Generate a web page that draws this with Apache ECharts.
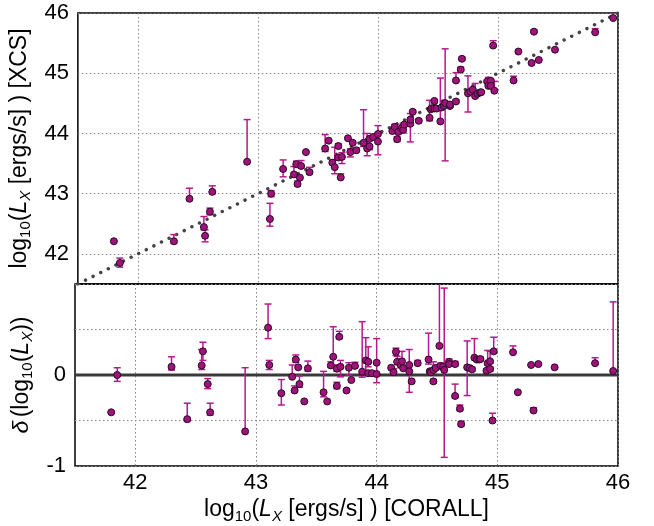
<!DOCTYPE html>
<html>
<head>
<meta charset="utf-8">
<script src="https://cdn.jsdelivr.net/npm/echarts@6/dist/echarts.min.js"></script>
<style>html,body{margin:0;padding:0;background:#fff}#c{width:654px;height:526px}</style>
</head>
<body>
<div id="c"></div>
<script>
// log10(Lx) CORALL (x)
const xCorall = [41.80,41.85,42.30,42.43,42.55,42.56,42.60,42.62,42.91,43.10,
43.11,43.21,43.30,43.32,43.33,43.35,43.36,43.40,43.43,43.56,
43.59,43.62,43.64,43.67,43.67,43.69,43.70,43.75,43.77,43.79,
43.82,43.88,43.91,43.93,43.93,43.96,44.00,44.00,44.12,44.14,
44.16,44.17,44.20,44.21,44.22,44.27,44.27,44.29,44.34,44.43,
44.44,44.45,44.47,44.47,44.49,44.52,44.53,44.55,44.56,44.60,
44.60,44.65,44.65,44.69,44.70,44.75,44.77,44.79,44.81,44.83,
44.85,44.86,44.91,44.92,44.94,44.94,44.96,44.97,45.13,45.17,
45.28,45.30,45.34,45.475,45.81,45.96];
// log10(Lx) XCS (y, top panel)
const xcs = [42.21,41.85,42.21,42.915,42.445,42.30,42.70,43.03,43.53,42.58,
43.00,43.41,43.32,43.49,43.16,43.266,43.46,43.69,43.357,43.75,
43.88,43.515,43.44,43.79,43.60,43.27,43.61,43.92,43.69,43.845,
43.72,43.844,43.75,43.91,43.785,43.94,43.865,43.99,44.04,44.11,
43.905,44.025,44.09,44.06,44.147,44.16,44.23,44.36,44.21,44.26,
44.40,44.42,44.54,44.415,44.413,44.20,44.43,44.46,44.505,44.455,
44.48,44.53,44.88,45.06,45.24,44.666,44.693,44.728,44.62,44.66,
44.68,44.685,44.863,44.79,44.874,44.79,45.46,44.71,44.88,45.36,
45.17,45.69,45.22,45.391,45.68,45.916];
// delta log10(Lx) (bottom panel)
const delta = [-0.41,0.00,0.09,-0.485,0.105,0.26,-0.10,-0.41,-0.62,0.52,
0.11,-0.20,-0.02,-0.17,0.17,0.084,-0.10,-0.29,0.073,-0.19,
-0.29,0.105,0.20,-0.12,0.07,0.42,0.09,-0.17,0.08,-0.055,
0.10,0.036,0.16,0.02,0.145,0.02,0.135,0.01,0.08,0.03,
0.255,0.145,0.11,0.15,0.073,0.11,0.04,-0.07,0.13,0.17,
0.04,0.03,-0.07,0.055,0.077,0.32,0.10,0.09,0.055,0.145,
0.12,0.12,-0.23,-0.37,-0.54,0.084,0.077,0.062,0.19,0.17,
0.17,0.175,0.047,0.13,0.066,0.15,-0.50,0.26,0.25,-0.19,
0.11,-0.39,0.12,0.084,0.13,0.044];
// lower / upper error sizes
const errLo = [0,0.07,0.035,0.025,0.045,0.10,0.05,0.03,0,0.12,
0.05,0.13,0,0.02,0.03,0,0.035,0,0.03,0.05,
0,0.02,0.11,0.03,0.03,0.02,0.11,0,0.08,0,
0.02,0.06,0.12,0,0.055,0.02,0.22,0,0,0.02,
0.04,0.03,0.03,0.05,0,0.30,0,0.02,0.02,0.05,
0,0.02,0.02,0.02,0.02,0,0.02,0.02,0.96,0.02,
0.02,0.02,0.02,0.02,0.02,0.31,0,0.02,0.02,0.02,
0,0.02,0.02,0.02,0.02,0.02,0.02,0.02,0,0,
0,0.01,0,0,0.01,0];
const errHi = [0,0.08,0.11,0.175,0.175,0.10,0.06,0.10,0.70,0.26,
0.05,0.15,0.13,0.05,0.05,0,0.09,0,0.08,0.23,
0,0.04,0.33,0.04,0.04,0.06,0.07,0,0.055,0,
0.04,0.55,0.25,0,0.165,0.02,0.265,0,0,0.04,
0.04,0.06,0.05,0.11,0,0.17,0,0.02,0.03,0.29,
0,0.03,0.02,0.09,0.03,0.72,0.03,0.03,0.90,0.03,
0.02,0.03,0.13,0.04,0.03,0.29,0,0.02,0.21,0.02,
0,0.02,0.02,0.14,0.02,0.11,0.08,0.155,0.07,0,
0,0.03,0,0,0.06,0.76];
const xTicks = [42,43,44,45,46];
const yTopTicks = [42,43,44,45,46];
const oneToOne = [41.5, 46];

const MAG = '#b8188f', FILL = '#a0137c', EDGE = '#2b0a22';
const topPts = xCorall.map((x,i)=>[x, xcs[i]]);
const botPts = xCorall.map((x,i)=>[x, delta[i]]);
const topErr = xCorall.map((x,i)=>[x, xcs[i], errLo[i], errHi[i]]);
const botErr = xCorall.map((x,i)=>[x, delta[i], errLo[i], errHi[i]]);

function errItem(params, api){
  const x = api.value(0), y = api.value(1), lo = api.value(2), hi = api.value(3);
  if (lo === 0 && hi === 0) return null;
  const p0 = api.coord([x, y - lo]);
  const p1 = api.coord([x, y + hi]);
  const w = 3.5;
  const st = {stroke: MAG, lineWidth: 1.5};
  const children = [{type:'line', shape:{x1:p0[0],y1:p0[1],x2:p1[0],y2:p1[1]}, style:st}];
  if (lo > 0) children.push({type:'line', shape:{x1:p0[0]-w,y1:p0[1],x2:p0[0]+w,y2:p0[1]}, style:st});
  if (hi > 0) children.push({type:'line', shape:{x1:p1[0]-w,y1:p1[1],x2:p1[0]+w,y2:p1[1]}, style:st});
  return {type:'group', children};
}

const FONT = 'Liberation Sans, Arial, sans-serif';
const gridLine = {show:true, lineStyle:{color:'#888', type:[1.5,2.5], width:1}};
const rich = {
  n:{fontSize:23, fontFamily:FONT, color:'#000', lineHeight:28, verticalAlign:'middle'},
  i:{fontSize:23, fontFamily:FONT, color:'#000', fontStyle:'italic', lineHeight:28, verticalAlign:'middle'},
  s:{fontSize:15, fontFamily:FONT, color:'#000', lineHeight:15, verticalAlign:'bottom'},
  si:{fontSize:15, fontFamily:FONT, color:'#000', fontStyle:'italic', lineHeight:15, verticalAlign:'bottom'}
};

const chart = echarts.init(document.getElementById('c'));
chart.setOption({
  animation:false,
  backgroundColor:'#fff',
  grid:[
    {left:75, right:36, top:13, height:271, show:true, borderColor:'#000', borderWidth:1.5, backgroundColor:'transparent'},
    {left:75, right:36, top:284, height:182, show:true, borderColor:'#000', borderWidth:1.5, backgroundColor:'transparent'}
  ],
  xAxis:[
    {type:'value', gridIndex:0, min:41.5, max:46,
     axisLine:{show:false}, axisTick:{show:false, customValues:xTicks}, axisLabel:{show:false, customValues:xTicks},
     splitLine:gridLine},
    {type:'value', gridIndex:1, min:41.5, max:46,
     axisLine:{show:false}, axisTick:{show:false, customValues:xTicks},
     axisLabel:{customValues:xTicks, fontSize:22, fontFamily:FONT, color:'#000', margin:6},
     splitLine:gridLine,
     name:'{n|log}{s|10}{n|(}{i|L}{si|X}{n| [ergs/s] ) [CORALL]}', nameLocation:'middle', nameGap:30,
     nameTextStyle:{rich}}
  ],
  yAxis:[
    {type:'value', gridIndex:0, min:41.5, max:46,
     axisLine:{show:false}, axisTick:{show:false, customValues:yTopTicks},
     axisLabel:{customValues:yTopTicks, fontSize:22, fontFamily:FONT, color:'#000', margin:9},
     splitLine:gridLine,
     name:'{n|log}{s|10}{n|(}{i|L}{si|X}{n| [ergs/s] ) [XCS]}', nameLocation:'middle', nameGap:31, nameRotate:90,
     nameTextStyle:{rich}},
    {type:'value', gridIndex:1, min:-1, max:1, interval:0.5,
     axisLine:{show:false}, axisTick:{show:false},
     axisLabel:{fontSize:22, fontFamily:FONT, color:'#000', margin:9,
       formatter:(v)=> (Math.abs(v) < 1e-9 ? '0' : (Math.abs(v+1) < 1e-9 ? '-1' : ''))},
     splitLine:gridLine,
     name:'{i|δ} {n|(log}{s|10}{n|(}{i|L}{si|X}{n|))}', nameLocation:'middle', nameGap:31, nameRotate:90,
     nameTextStyle:{rich}}
  ],
  series:[
    {type:'line', xAxisIndex:0, yAxisIndex:0, data:[[oneToOne[0],oneToOne[0]],[oneToOne[1],oneToOne[1]]],
     symbol:'none', silent:true, z:2,
     lineStyle:{color:'#444', width:3.4, type:[0.1,8.4], cap:'round'}},
    {type:'line', xAxisIndex:1, yAxisIndex:1, data:[[oneToOne[0],0],[oneToOne[1],0]],
     symbol:'none', silent:true, z:2, lineStyle:{color:'#3a3a3a', width:3}},
    {type:'custom', xAxisIndex:0, yAxisIndex:0, data:topErr, renderItem:errItem, clip:true, z:3},
    {type:'custom', xAxisIndex:1, yAxisIndex:1, data:botErr, renderItem:errItem, clip:true, z:3},
    {type:'scatter', xAxisIndex:0, yAxisIndex:0, data:topPts, symbolSize:7, z:4,
     itemStyle:{color:FILL, borderColor:EDGE, borderWidth:1, opacity:1}},
    {type:'scatter', xAxisIndex:1, yAxisIndex:1, data:botPts, symbolSize:7, z:4,
     itemStyle:{color:FILL, borderColor:EDGE, borderWidth:1, opacity:1}}
  ]
});
</script>
</body>
</html>
